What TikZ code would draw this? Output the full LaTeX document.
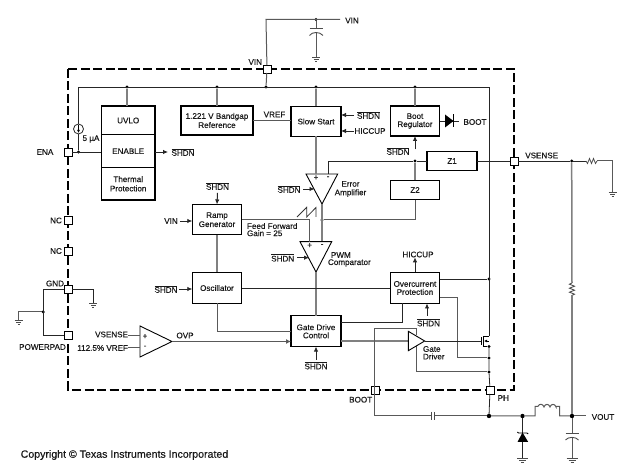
\documentclass[tikz,border=0pt]{standalone}
\usepackage{fontspec}
\setmainfont[RawFeature={embolden=0.35}]{Liberation Sans}
\usetikzlibrary{arrows.meta}
\newcommand{\shdn}{$\overline{\mbox{SHDN}}$}
\tikzset{
  x=1pt, y=-1pt,
  every node/.style={font=\fontsize{8.1}{8.1}\selectfont, inner sep=0pt, outer sep=0pt, text=black!90},
  border/.style={line width=1.6pt, dash pattern=on 9pt off 3.5pt},
  wire/.style={line width=0.8pt, draw=black!85},
  gwire/.style={line width=1.5pt, draw=black!50},
  mwire/.style={line width=1pt, draw=black!65},
  sig/.style={line width=0.8pt, draw=black!85, -{Latex[length=5pt,width=4.5pt]}},
  block/.style={draw=black, line width=1.1pt, fill=white, align=center},
  pin/.style={draw=black, line width=0.9pt, fill=white, minimum size=8pt},
  dot/.style={circle, fill=black, minimum size=3.4pt},
  bigdot/.style={circle, fill=black, minimum size=4.4pt},
  amp/.style={draw=black, line width=0.9pt, fill=white, line join=miter},
  lab/.style={align=center},
  gndsym/.pic={\draw[line width=0.7pt, draw=black!70] (-4,0)--(4,0) (-2.5,2)--(2.5,2) (-1,4)--(1,4);},
  gndbig/.pic={\draw[line width=0.7pt, draw=black!70] (-5.5,0)--(5.5,0) (-3.5,2.2)--(3.5,2.2) (-1.5,4.4)--(1.5,4.4);},
}
\begin{document}
\begin{tikzpicture}
\useasboundingbox (0,0) rectangle (641,473);

% package outline
\draw[border] (68,69) rectangle (514,390);

% function blocks
\node[block, minimum width=53.5pt, minimum height=29pt] (uvlo) at (128.2,120.5) {UVLO};
\node[block, minimum width=53.5pt, minimum height=32.5pt] (enable) at (128.2,151.2) {ENABLE};
\node[block, minimum width=53.5pt, minimum height=32.5pt] (thermal) at (128.2,183.8) {Thermal\\[1.2pt]Protection};
\node[block, minimum width=72pt, minimum height=29pt] (bandgap) at (217,120.5) {1.221 V Bandgap\\[1pt]Reference};
\node[block, minimum width=50pt, minimum height=30pt] (slow) at (316,121.5) {Slow Start};
\node[block, minimum width=49.5pt, minimum height=30pt] (bootreg) at (415,121) {Boot\\Regulator};
\node[block, minimum width=49.5pt, minimum height=19.5pt] (ztwo) at (415,190) {Z2};
\node[block, minimum width=50pt, minimum height=19.5pt] (zone) at (452,161) {Z1};
\node[block, minimum width=49.5pt, minimum height=30.5pt] (ramp) at (217,219.7) {Ramp\\[1pt]Generator};
\node[block, minimum width=49.5pt, minimum height=31pt] (osc) at (217,288) {Oscillator};
\node[block, minimum width=50pt, minimum height=30.7pt] (gate) at (316,331.3) {Gate Drive\\Control};
\node[block, minimum width=49.5pt, minimum height=31pt] (ocp) at (415,288) {Overcurrent\\Protection};

% package pins
\node[pin] (pvin) at (267,69) {};
\node[pin] (pena) at (68,152) {};
\node[pin] (pncA) at (68,220) {};
\node[pin] (pncB) at (68,251) {};
\node[pin] (pgnd) at (68,289) {};
\node[pin] (ppad) at (68,335.5) {};
\node[pin] (psense) at (514,161) {};
\node[pin] (pboot) at (375.5,390) {};
\node[pin] (pph) at (490,390) {};

% supply rail junctions
\coordinate (railL) at (78.5,87);
\coordinate (railR) at (489,87);
\node[dot] (ruvlo) at (127,87) {};
\node[dot] (rband) at (217,87) {};
\node[dot] (rvin) at (266,87) {};
\node[dot] (rslow) at (316,87) {};
\node[dot] (rboot) at (415,87) {};
\node[dot] (jena) at (78.5,152) {};

% other junctions
\node[dot] (jztwo) at (415,161) {};
\node[dot] (jerr) at (322,220) {};
\node[dot] (jocp) at (489,279) {};
\node[dot] (jfet) at (489,346.5) {};
\node[dot] (jsns) at (489,358) {};
\node[dot] (jdrv) at (489,372) {};
\node[dot] (jsense) at (571.7,161) {};
\node[dot] (jvin) at (316,19.5) {};
\node[dot] (jgnd) at (43.2,312) {};
\node[bigdot] (jph) at (489,416) {};
\node[bigdot] (jdiode) at (522.5,416) {};
\node[bigdot] (jvout) at (572,416) {};

% supply rail
\draw[wire] (jena) -- (railL) -- (railR) -- (489,336);
\draw[gwire] (ruvlo) -- (ruvlo |- uvlo.north);
\draw[gwire] (rband) -- (bandgap.north);
\draw[gwire] (rslow) -- (slow.north);
\draw[gwire] (rboot) -- (bootreg.north);
\draw[mwire] (rvin) -- (pvin);

% input supply and its capacitor
\coordinate (vinEnd) at (340,19.5);
\coordinate (vinCorner) at (266,19.5);
\coordinate (capTopA) at (316,29);
\coordinate (capTopB) at (316,33);
\coordinate (capTopG) at (316,57);
\draw[mwire] (pvin) -- (vinCorner) -- (vinEnd);
\draw[mwire] (jvin) -- (capTopA);
\draw[mwire] (capTopB) -- (capTopG);
\draw[line width=1pt, draw=black!70] (309.5,29) -- (323,29);
\draw[line width=0.9pt, draw=black!70] (309.5,35.5) .. controls (312,31.5) and (320,31.5) .. (323,35.5);
\draw (capTopG) pic {gndsym};
\node (tvinA) at (352,20.5) {VIN};
\node[anchor=east] (tvinB) at (262,62) {VIN};

% enable input with pull-up current source
\draw[wire] (pena) -- (enable.west |- pena);
\draw[wire, fill=white] (78.5,129) circle (5);
\draw[line width=0.7pt, -{Latex[length=3pt,width=3pt]}] (78.5,125.5) -- (78.5,133);
\node (tena) at (45,152) {ENA};
\node (tua) at (91,139) {5 µA};
\node (shdnA) at (183,152) {\shdn};
\coordinate (shdnAin) at (168,152);
\draw[sig] (enable.east |- shdnA) -- (shdnAin);

% unconnected pins and grounds
\node (tncA) at (56,220.5) {NC};
\node (tncB) at (56,251) {NC};
\node (tgnd) at (55,283.5) {GND};
\node (tpad) at (42.5,347) {POWERPAD};
\coordinate (gA) at (43.2,289);
\coordinate (gB) at (43.2,335.5);
\coordinate (gC) at (93.3,289);
\coordinate (gD) at (93.3,303);
\coordinate (gE) at (18.7,312);
\coordinate (gF) at (18.7,320);
\draw[wire] (pgnd) -- (gA) -- (gB) -- (ppad);
\draw[wire] (pgnd) -- (gC) -- (gD);
\draw[mwire] (jgnd) -- (gE) -- (gF);
\draw (gD) pic {gndsym};
\draw (gF) pic {gndsym};

% reference to slow start
\draw[mwire] (bandgap.east |- 0,121) -- (slow.west |- 0,121);
\node (tvref) at (274.5,114.5) {VREF};
\node (shdnB) at (368.5,115) {\shdn};
\node (thicA) at (370,131) {HICCUP};
\coordinate (ssA) at (354,115);
\coordinate (ssB) at (353.5,131);
\draw[sig] (ssA) -- (slow.east |- ssA);
\draw[sig] (ssB) -- (slow.east |- ssB);

% boot regulator
\node (tboot) at (475,122) {BOOT};
\coordinate (dA) at (445,121);
\coordinate (dB) at (453.5,121);
\coordinate (dC) at (459,121);
\draw[wire] (bootreg.east |- dA) -- (dC);
\fill[black] (445,114.5) -- (453.5,121) -- (445,127.5) -- cycle;
\draw[line width=1pt] (453.5,114.5) -- (453.5,127.5);
\node (shdnC) at (398,151) {\shdn};
\coordinate (bA) at (415,149.5);
\draw[sig] (bA) -- (bootreg.south);

% error amplifier
\coordinate (eaL) at (306,174);
\coordinate (eaR) at (337.7,174);
\coordinate (eaP) at (322,204);
\coordinate (eaPlus) at (316,174);
\coordinate (eaMinus) at (328,174);
\coordinate (eaC) at (328,161);
\draw[amp] (eaL) -- (eaR) -- (eaP) -- cycle;
\node at (316,177.7) {+};
\node at (328,177.7) {-};
\node[lab] (terr) at (350.5,189) {Error\\[0.5pt]Amplifier};
\draw[gwire] (slow.south) -- (eaPlus);
\draw[wire] (eaMinus) -- (eaC) -- (jztwo);
\draw[wire] (jztwo) -- (zone.west);
\draw[wire] (zone.east) -- (psense);
\draw[gwire] (jztwo) -- (ztwo.north);
\coordinate (zC) at (415,220);
\draw[mwire] (ztwo.south) -- (zC) -- (jerr);
\draw[gwire] (eaP) -- (322,241.7);
\node (shdnD) at (289,189) {\shdn};
\coordinate (eaS) at (314.5,189);
\draw[sig] (shdnD.east) ++(3,0) -- (eaS);

% ramp generator and PWM comparator
\coordinate (pwL) at (300,241.7);
\coordinate (pwR) at (331.7,241.7);
\coordinate (pwP) at (316,272);
\coordinate (pwPlus) at (309.7,241.7);
\coordinate (pwCorner) at (309.7,220);
\draw[amp] (pwL) -- (pwR) -- (pwP) -- cycle;
\node at (309.7,245.5) {+};
\node at (322,245.5) {-};
\node[lab, anchor=west] (tpwm) at (331,255) {PWM};
\node[anchor=west] (tcomp) at (328,263) {Comparator};
\draw[mwire] (ramp.east |- pwCorner) -- (pwCorner) -- (pwPlus);
\node[anchor=west] (tff) at (247,226) {Feed Forward};
\node[anchor=west] (tgain) at (247,233.2) {Gain = 25};
\draw[line width=0.8pt, draw=black!80] (297,217) -- (306.7,207.3) -- (306.7,217) -- (316,207.5) -- (316,217);
\node (shdnE) at (217.5,186) {\shdn};
\draw[sig, line width=1pt] (shdnE.south) ++(0,3) -- (ramp.north);
\node (tvinC) at (171,221) {VIN};
\draw[sig] (tvinC.east) ++(2,0) -- (ramp.west |- tvinC);
\draw[gwire] (ramp.south) -- (osc.north);
\node (shdnF) at (282.7,257.7) {\shdn};
\coordinate (pwS) at (309,257.7);
\draw[sig] (shdnF.east) ++(3,0) -- (pwS);
\draw[gwire] (pwP) -- (gate.north);

% oscillator
\node (shdnG) at (166,289) {\shdn};
\draw[sig] (shdnG.east) ++(2,0) -- (osc.west |- shdnG);
\draw[wire] (osc.east) -- (ocp.west);
\coordinate (oscC) at (217,331.7);
\draw[mwire] (osc.south) -- (oscC) -- (gate.west |- oscC);

% overvoltage comparator
\coordinate (ovA) at (140,326);
\coordinate (ovB) at (140,357);
\coordinate (ovP) at (172,341.5);
\coordinate (ovPlus) at (140,335.5);
\coordinate (ovMinus) at (140,348);
\draw[amp] (ovA) -- (ovP) -- (ovB) -- cycle;
\node at (145,336.5) {+};
\node at (145,347) {-};
\node[anchor=east] (tvs) at (128,334.5) {VSENSE};
\node[anchor=east] (tvr) at (128,348) {112.5\% VREF};
\draw[mwire] (tvs.east) ++(0,1) -- (ovPlus);
\draw[mwire] (tvr.east) -- (ovMinus);
\node (tovp) at (185,335.5) {OVP};
\draw[mwire, -{Latex[length=5pt,width=5pt]}] (ovP) -- (gate.west |- ovP);
\node (shdnH) at (316,365.5) {\shdn};
\draw[sig] (shdnH.north) ++(0,-2) -- (gate.south);

% overcurrent protection
\node (thicB) at (418,254.5) {HICCUP};
\draw[sig] (ocp.north) -- (thicB.south -| ocp.north);
\node (shdnI) at (428.5,322.5) {\shdn};
\coordinate (ocpS) at (427,316);
\draw[sig] (ocpS) -- (ocpS |- ocp.south);
\coordinate (gcA) at (402.5,322.3);
\draw[wire] (gate.east |- gcA) -- (gcA) -- (gcA |- ocp.south);
\coordinate (ocA) at (439.8,279);
\draw[wire] (ocA) -- (jocp);
\coordinate (ocB) at (439.8,298);
\coordinate (ocC) at (457.7,298);
\coordinate (ocD) at (457.7,358);
\draw[mwire] (ocB) -- (ocC) -- (ocD) -- (jsns);

% gate driver and power switch
\coordinate (gdA) at (408.3,331.3);
\coordinate (gdB) at (408.3,350.7);
\coordinate (gdP) at (424.7,341);
\coordinate (gdTop) at (416.5,335.5);
\coordinate (gdBot) at (416.5,346.5);
\coordinate (gdBC) at (416.5,372);
\coordinate (gdTC) at (416.5,329);
\coordinate (btTL) at (374.5,329);
\coordinate (btBL) at (374.5,416);
\draw[gwire] (gate.east |- gdP) -- (gdA |- gdP);
\draw[mwire] (gdTop) -- (gdTC) -- (btTL) -- (btBL);
\draw[mwire] (gdBot) -- (gdBC) -- (jdrv);
\draw[amp] (gdA) -- (gdP) -- (gdB) -- cycle;
\node[anchor=west] (tgd) at (423,349) {Gate};
\node[anchor=west] (tdr) at (423,356.5) {Driver};
\coordinate (fetG) at (481,341);
\draw[wire] (gdP) -- (fetG);
\draw[line width=0.8pt] (481,337.5) -- (481,345);
\draw[line width=0.9pt] (489,336) -- (483.5,336) -- (483.5,346.5) -- (jfet);
\draw[line width=0.8pt, {Latex[length=3pt,width=3pt]}-] (484,341) -- (489,341);
\draw[wire] (jfet) -- (jsns) -- (jdrv) -- (pph) -- (jph);

% output stage
\coordinate (capBA) at (431.5,416);
\coordinate (capBB) at (435,416);
\draw[mwire] (btBL) -- (capBA);
\draw[mwire] (capBB) -- (jph);
\draw[line width=0.9pt, draw=black!70] (431.5,412) -- (431.5,420) (434.5,412) -- (434.5,420);
\coordinate (lA) at (535,416);
\coordinate (lB) at (535,406.3);
\coordinate (lC) at (559.5,406.3);
\coordinate (lD) at (559.5,416);
\draw[mwire] (jph) -- (jdiode) -- (lA) -- (lB) -- (538,406.3)
  .. controls (539,403.5) and (543,403.5) .. (544,407)
  .. controls (545,403.5) and (549,403.5) .. (550,407)
  .. controls (551,403.5) and (555,403.5) .. (556,407)
  -- (556,406.3) -- (lC) -- (lD) -- (jvout);
\coordinate (voutEnd) at (586,416);
\draw[mwire] (jvout) -- (voutEnd);
\node (tvout) at (603,417) {VOUT};

% catch diode
\coordinate (zaA) at (522.5,433);
\coordinate (zaB) at (522.5,458);
\draw[wire] (jdiode) -- (zaA);
\draw[wire] (zaA) -- (zaB);
\fill[black] (522.5,432.5) -- (528.2,442) -- (517.5,442) -- cycle;
\draw[line width=0.9pt] (517.3,432) -- (518.5,433) -- (527,433) -- (528.2,434);
\draw (zaB) pic {gndbig};

% output capacitor
\coordinate (cA) at (572,434);
\coordinate (cB) at (572,437);
\coordinate (cG) at (572,458);
\draw[mwire] (jvout) -- (cA);
\draw[mwire] (cB) -- (cG);
\draw[line width=1pt, draw=black!70] (565.5,434) -- (578.5,434);
\draw[line width=0.9pt, draw=black!70] (565.5,440) .. controls (568,436.5) and (576,436.5) .. (578.5,440);
\draw (cG) pic {gndbig};

% output feedback divider
\coordinate (rA) at (572,283);
\coordinate (rB) at (572,295.5);
\draw[gwire] (jsense) -- (rA);
\draw[line width=0.9pt, draw=black!70] (rA) -- ++(-2.5,1.2) -- ++(5,2) -- ++(-5,2) -- ++(5,2) -- ++(-5,2) -- ++(5,2) -- (rB);
\draw[gwire] (rB) -- (jvout);
\coordinate (rhA) at (586,161);
\coordinate (rhB) at (597,161);
\coordinate (rhC) at (612.5,161);
\coordinate (rhD) at (612.5,192);
\draw[wire] (psense) -- (jsense) -- (rhA);
\draw[line width=0.8pt, draw=black!70] (rhA) -- ++(1.5,2.5) -- ++(2,-5) -- ++(2,5) -- ++(2,-5) -- ++(2,5) -- (rhB);
\draw[mwire] (rhB) -- (rhC) -- (rhD);
\draw (rhD) pic {gndsym};
\node (tsense) at (541.7,155.5) {VSENSE};

% bottom pin labels
\node (tboot2) at (360.7,399.7) {BOOT};
\node (tph) at (503.3,398) {PH};

\node[anchor=west, font=\fontsize{10.6}{10.6}\selectfont] (tcopy) at (20.7,455) {Copyright © Texas Instruments Incorporated};
\end{tikzpicture}
\end{document}
